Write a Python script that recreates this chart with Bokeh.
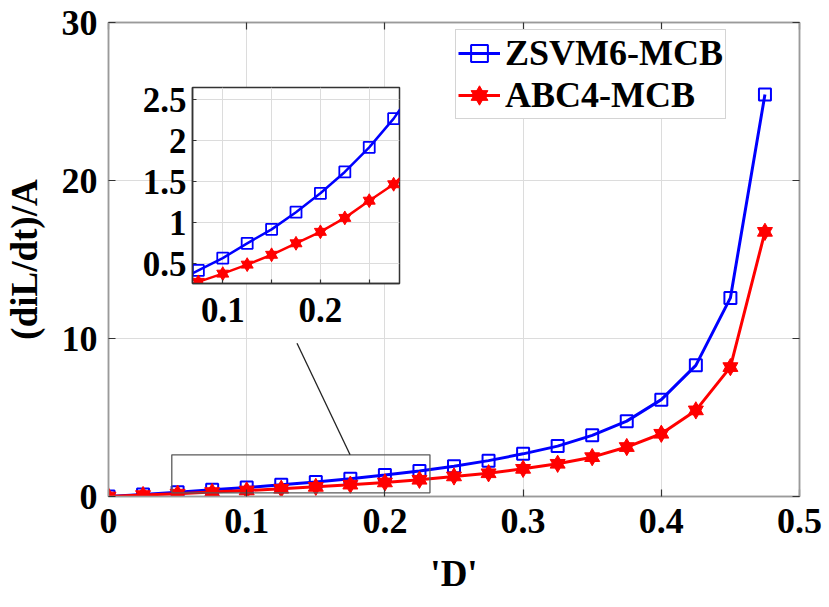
from bokeh.plotting import figure
from bokeh.models import (Range1d, FixedTicker, CustomJSTickFormatter, LinearAxis,
                          Legend, LegendItem)
from bokeh.layouts import column
from bokeh.embed import file_html
from bokeh.resources import INLINE

# ---------------- data ----------------
D = [0.0, 0.025, 0.05, 0.075, 0.1, 0.125, 0.15, 0.175, 0.2, 0.225,
     0.25, 0.275, 0.3, 0.325, 0.35, 0.375, 0.4, 0.425, 0.45, 0.475]
zsvm6_mcb = [0.0, 0.13, 0.27, 0.42, 0.57, 0.75, 0.92, 1.13, 1.36, 1.62,
             1.92, 2.27, 2.70, 3.19, 3.87, 4.77, 6.13, 8.30, 12.57, 25.45]
abc4_mcb = [0.0, 0.09, 0.18, 0.28, 0.38, 0.49, 0.61, 0.75, 0.89, 1.06,
            1.27, 1.47, 1.75, 2.07, 2.49, 3.13, 3.97, 5.45, 8.19, 16.75]

series_names = ["ZSVM6-MCB", "ABC4-MCB"]
x_ticks = [0, 0.1, 0.2, 0.3, 0.4, 0.5]
y_ticks = [0, 10, 20, 30]
x_label = "'D'"
y_label = "(diL/dt)/A"

inset_x_ticks = [0.1, 0.15, 0.2, 0.25]
inset_y_ticks = [0.5, 1, 1.5, 2, 2.5]
inset_x_range = (0.069, 0.281)
inset_y_range = (0.26, 2.65)

# zoom window marked on main axes, and connector line (data units)
zoom_left, zoom_right, zoom_bottom, zoom_top = 0.0458, 0.2326, 0.23, 2.64
conn_x0, conn_y0, conn_x1, conn_y1 = 0.1364, 9.70, 0.1748, 2.64

FONT = "Liberation Serif"
BLUE = "#0000ff"
RED = "#ff0000"

fmt_main_x = CustomJSTickFormatter(code="return String(Math.round(tick*10)/10);")
fmt_main_y = CustomJSTickFormatter(code="return String(Math.round(tick));")
fmt_empty = CustomJSTickFormatter(code="return '';")


def style_axis(ax, size, standoff, tick_in, line_color, tick_color):
    ax.major_label_text_font = FONT
    ax.major_label_text_font_style = "bold"
    ax.major_label_text_font_size = size
    ax.major_label_text_color = "black"
    ax.major_label_standoff = standoff
    ax.major_tick_in = tick_in
    ax.major_tick_out = 0
    ax.minor_tick_in = 0
    ax.minor_tick_out = 0
    ax.axis_line_color = line_color
    ax.axis_line_width = 1.5
    ax.major_tick_line_color = tick_color
    ax.major_tick_line_width = 1.2


# ---------------- main figure ----------------
BORDER_L, BORDER_R = 108, 30
p = figure(frame_width=691, frame_height=474,
           min_border_left=BORDER_L, min_border_right=BORDER_R,
           min_border_top=22, min_border_bottom=111,
           x_range=Range1d(0, 0.5), y_range=Range1d(0, 30),
           output_backend="svg", toolbar_location=None)
p.background_fill_color = "white"
p.border_fill_color = "white"
p.outline_line_color = "#9a9a9a"
p.outline_line_width = 1.5

xa = p.xaxis[0]
xa.ticker = FixedTicker(ticks=x_ticks)
xa.formatter = fmt_main_x
style_axis(xa, "36px", 12, 7, "#9a9a9a", "#333333")
xa.axis_label = x_label
xa.axis_label_text_font = FONT
xa.axis_label_text_font_style = "bold"
xa.axis_label_text_font_size = "37px"
xa.axis_label_text_color = "black"
xa.axis_label_standoff = 17

ya = p.yaxis[0]
ya.ticker = FixedTicker(ticks=y_ticks)
ya.formatter = fmt_main_y
style_axis(ya, "36px", 11, 7, "#9a9a9a", "#333333")
ya.axis_label = y_label
ya.axis_label_text_font = FONT
ya.axis_label_text_font_style = "bold"
ya.axis_label_text_font_size = "37px"
ya.axis_label_text_color = "black"
ya.axis_label_standoff = 14

top_ax = LinearAxis(ticker=FixedTicker(ticks=x_ticks), formatter=fmt_empty)
style_axis(top_ax, "0px", 0, 7, "#9a9a9a", "#333333")
p.add_layout(top_ax, "above")
right_ax = LinearAxis(ticker=FixedTicker(ticks=y_ticks), formatter=fmt_empty)
style_axis(right_ax, "0px", 0, 7, "#9a9a9a", "#333333")
p.add_layout(right_ax, "right")

p.xgrid.ticker = FixedTicker(ticks=x_ticks)
p.ygrid.ticker = FixedTicker(ticks=y_ticks)
for g in (p.xgrid[0], p.ygrid[0]):
    g.grid_line_color = "#dcdcdc"
    g.grid_line_width = 1

bl = p.line(D, zsvm6_mcb, line_color=BLUE, line_width=3)
bm = p.scatter(D, zsvm6_mcb, marker="square", size=12, line_color=BLUE,
               line_width=2, fill_alpha=0)
rl = p.line(D, abc4_mcb, line_color=RED, line_width=3)
rt1 = p.scatter(D, abc4_mcb, marker="triangle", size=15, line_color=RED,
                fill_color=RED, line_width=1)
rt2 = p.scatter(D, abc4_mcb, marker="inverted_triangle", size=15, line_color=RED,
                fill_color=RED, line_width=1)

p.quad(left=[zoom_left], right=[zoom_right], bottom=[zoom_bottom], top=[zoom_top],
       fill_alpha=0, line_color="#5a5a5a", line_width=1.3)
p.segment(x0=[conn_x0], y0=[conn_y0], x1=[conn_x1], y1=[conn_y1],
          line_color="#222222", line_width=1.3)

legend = Legend(items=[LegendItem(label=series_names[0], renderers=[bl, bm]),
                       LegendItem(label=series_names[1], renderers=[rl, rt1, rt2])],
                location=(347, 377))
legend.label_text_font = FONT
legend.label_text_font_style = "bold"
legend.label_text_font_size = "36px"
legend.label_text_color = "black"
legend.label_height = 42
legend.glyph_height = 42
legend.glyph_width = 42
legend.label_standoff = 5
legend.spacing = 0
legend.padding = 2
legend.margin = 0
legend.border_line_color = "#aaaaaa"
legend.border_line_width = 1.2
legend.background_fill_color = "white"
legend.background_fill_alpha = 1
p.add_layout(legend)

# ---------------- inset ----------------
INS_T = 4
ins = figure(frame_width=207, frame_height=196,
             min_border_left=BORDER_L, min_border_right=BORDER_R,
             min_border_top=INS_T, min_border_bottom=70,
             x_range=Range1d(*inset_x_range), y_range=Range1d(*inset_y_range),
             output_backend="svg", toolbar_location=None)
ins.background_fill_color = "white"
ins.border_fill_alpha = 0
ins.outline_line_color = "#333333"
ins.outline_line_width = 1.5
ins.styles = {"position": "absolute", "left": f"{192 - BORDER_L}px", "top": f"{87 - INS_T}px"}

ixa = ins.xaxis[0]
ixa.ticker = FixedTicker(ticks=inset_x_ticks)
ixa.formatter = CustomJSTickFormatter(
    code="const v = Math.round(tick*100); return (v % 10 === 0) ? String(v/100) : '';")
style_axis(ixa, "35px", 14, 4, "#333333", "#333333")
iya = ins.yaxis[0]
iya.ticker = FixedTicker(ticks=inset_y_ticks)
iya.formatter = CustomJSTickFormatter(code="return String(Math.round(tick*10)/10);")
style_axis(iya, "35px", 6, 4, "#333333", "#333333")
ins.xgrid.ticker = FixedTicker(ticks=inset_x_ticks)
ins.ygrid.ticker = FixedTicker(ticks=inset_y_ticks)
for g in (ins.xgrid[0], ins.ygrid[0]):
    g.grid_line_color = "#dcdcdc"
    g.grid_line_width = 1

ins.line(D, zsvm6_mcb, line_color=BLUE, line_width=2.5)
ins.scatter(D, zsvm6_mcb, marker="square", size=11, line_color=BLUE,
            line_width=1.8, fill_alpha=0)
ins.line(D, abc4_mcb, line_color=RED, line_width=2.5)
ins.scatter(D, abc4_mcb, marker="triangle", size=12, line_color=RED,
            fill_color=RED, line_width=1)
ins.scatter(D, abc4_mcb, marker="inverted_triangle", size=12, line_color=RED,
            fill_color=RED, line_width=1)

layout = column(p, ins, width=829, height=607)
layout.styles = {"position": "relative", "overflow": "hidden"}

open("out.html", "w").write(file_html(layout, INLINE))
